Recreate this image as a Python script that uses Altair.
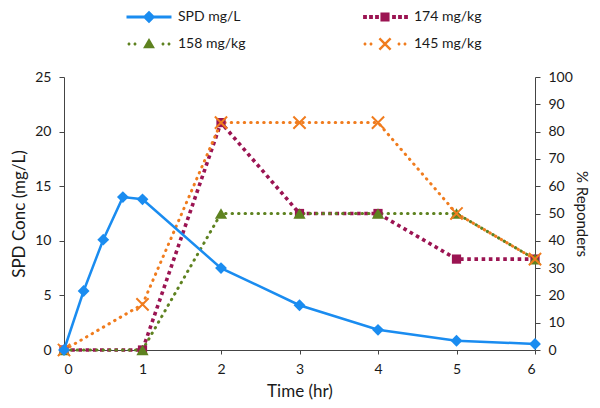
import altair as alt
import pandas as pd

# ---------------- data ----------------
series_names = ["SPD mg/L", "158 mg/kg", "174 mg/kg", "145 mg/kg"]
series_colors = ["#1A8CF0", "#5E8220", "#9B1452", "#F07C1E"]

time_spd = [0, 0.25, 0.5, 0.75, 1, 2, 3, 4, 5, 6]
spd_conc = [0, 5.4, 10.1, 14.0, 13.8, 7.5, 4.1, 1.85, 0.85, 0.55]

time_resp = [0, 1, 2, 3, 4, 5, 6]
resp_174 = [0, 0, 83.3, 50, 50, 33.3, 33.3]
resp_158 = [0, 0, 50, 50, 50, 50, 33.3]
resp_145 = [0, 16.7, 83.3, 83.3, 83.3, 50, 33.3]

x_ticks = [0, 1, 2, 3, 4, 5, 6]
left_ticks = [0, 5, 10, 15, 20, 25]
right_ticks = [0, 10, 20, 30, 40, 50, 60, 70, 80, 90, 100]

spd_df = pd.DataFrame({"t": time_spd, "conc": spd_conc})
resp_df = pd.concat([
    pd.DataFrame({"series": name, "t": time_resp, "pct": vals})
    for name, vals in [("174 mg/kg", resp_174), ("158 mg/kg", resp_158), ("145 mg/kg", resp_145)]
], ignore_index=True)

BLUE, GREEN, MAROON, ORANGE = series_colors
FONT = "Lato"
AX = "#444444"
TXT = "#1a1a1a"

# ---------------- legend symbol paths (unit = 7px, size 196) ----------------
def rect(x0, y0, x1, y1):
    return f"M{x0:.3f},{y0:.3f}H{x1:.3f}V{y1:.3f}H{x0:.3f}Z"

def circ(cx, cy, r):
    return (f"M{cx - r:.3f},{cy:.3f}A{r:.3f},{r:.3f} 0 1,0 {cx + r:.3f},{cy:.3f}"
            f"A{r:.3f},{r:.3f} 0 1,0 {cx - r:.3f},{cy:.3f}Z")

u = 7.0
hw = 22.5 / u
path_spd = rect(-hw, -1.5 / u, hw, 1.5 / u) + "M0,-0.9L0.9,0L0,0.9L-0.9,0Z"
sq = 1.9 / u
path_174 = "".join(rect(c / u - sq, -sq, c / u + sq, sq) for c in [-20, -14, -8, 9, 15, 21]) \
    + rect(-0.65, -0.65, 0.65, 0.65)
path_158 = "".join(circ(c / u, 0, 1.5 / u) for c in [-20, -14, 14, 20]) \
    + "M0,-0.85L0.85,0.6L-0.85,0.6Z"
a, d = 0.8, 1.2 / u / 1.414
x_path = (f"M{-a + d:.3f},{-a - d:.3f}L{a + d:.3f},{a - d:.3f}L{a - d:.3f},{a + d:.3f}L{-a - d:.3f},{-a + d:.3f}Z"
          f"M{-a - d:.3f},{a - d:.3f}L{a - d:.3f},{-a - d:.3f}L{a + d:.3f},{-a + d:.3f}L{-a + d:.3f},{a + d:.3f}Z")
path_145 = "".join(circ(c / u, 0, 1.5 / u) for c in [-20, -14, 14, 20]) + x_path
legend_paths = [path_spd, path_158, path_174, path_145]

# ---------------- encodings ----------------
x_enc = alt.X("t:Q", scale=alt.Scale(domain=[0, 6], nice=False, zero=False),
              axis=alt.Axis(values=x_ticks, format="d", title="Time (hr)", tickSize=4,
                            labelPadding=8, titlePadding=7))
y_left = alt.Y("conc:Q", scale=alt.Scale(domain=[0, 25], nice=False),
               axis=alt.Axis(values=left_ticks, orient="left", title="SPD Conc (mg/L)",
                             tickSize=5, labelPadding=8, titlePadding=6, titleFontSize=17))
y_right = alt.Y("pct:Q", scale=alt.Scale(domain=[0, 100], nice=False),
                axis=alt.Axis(values=right_ticks, orient="right", title="% Reponders",
                              tickSize=5, labelPadding=8, titlePadding=1, titleFontSize=15))

def resp(name):
    return alt.Chart(resp_df).transform_filter(alt.datum.series == name)

l174 = resp("174 mg/kg").mark_line(color=MAROON, strokeWidth=3.6, strokeDash=[3.6, 3.6], strokeCap="butt").encode(x=x_enc, y=y_right)
l158 = resp("158 mg/kg").mark_line(color=GREEN, strokeWidth=3, strokeDash=[0.5, 6], strokeCap="round").encode(x=x_enc, y=y_right)
l145 = resp("145 mg/kg").mark_line(color=ORANGE, strokeWidth=3, strokeDash=[0.5, 6], strokeCap="round").encode(x=x_enc, y=y_right)
p174 = resp("174 mg/kg").mark_point(shape="square", filled=True, size=85, color=MAROON, opacity=1).encode(x=x_enc, y=y_right)
p158 = resp("158 mg/kg").mark_point(shape="triangle-up", filled=True, size=150, color=GREEN, opacity=1).encode(x=x_enc, y=y_right)
p145 = resp("145 mg/kg").mark_point(shape="M-1,-1L1,1M-1,1L1,-1", filled=False, size=150, strokeWidth=2,
                                    color=ORANGE, opacity=1).encode(x=x_enc, y=y_right)

leg = alt.Legend(title=None, orient="none", legendX=78, legendY=-67, columns=2,
                 columnPadding=117, rowPadding=13, symbolSize=196, symbolStrokeWidth=0,
                 symbolOpacity=1, labelFont=FONT, labelFontSize=14, labelColor=TXT, labelOffset=22)
legend_layer = alt.Chart(resp_df).transform_filter("datum.t < -100").mark_point(
    filled=True, opacity=1, size=196).encode(
    x=x_enc, y=y_right,
    color=alt.Color("series:N", scale=alt.Scale(domain=series_names, range=series_colors), legend=leg),
    shape=alt.Shape("series:N", scale=alt.Scale(domain=series_names, range=legend_paths), legend=leg),
)

right_group = alt.layer(l174, l158, l145, p174, p158, p145, legend_layer)

lspd = alt.Chart(spd_df).mark_line(color=BLUE, strokeWidth=2.5).encode(x=x_enc, y=y_left)
pspd = alt.Chart(spd_df).mark_point(shape="diamond", filled=True, size=140, color=BLUE, opacity=1).encode(x=x_enc, y=y_left)
left_group = alt.layer(lspd, pspd)

chart = alt.layer(right_group, left_group).resolve_scale(y="independent").properties(
    width=471, height=273,
    autosize=alt.AutoSizeParams(type="none"),
    padding={"left": 56, "top": 69, "right": 57, "bottom": 50},
).configure_view(stroke=None).configure_axis(
    grid=False, domainColor=AX, tickColor=AX, labelFont=FONT, labelFontSize=14, labelColor=TXT,
    titleFont=FONT, titleFontSize=17, titleFontWeight="normal", titleColor=TXT,
)

chart.save("out.html", embed_options={"renderer": "svg", "actions": False})
